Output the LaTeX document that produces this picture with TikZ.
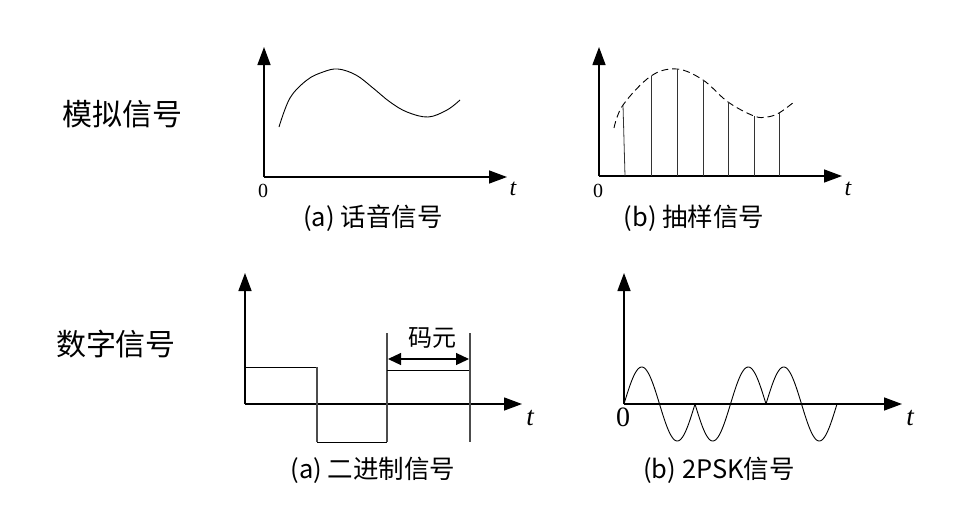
\documentclass[tikz,border=0pt]{standalone}
\usepackage{fontspec}
\setmainfont{Noto Sans CJK SC}
\newfontfamily\tnr{Liberation Serif}
\usetikzlibrary{arrows.meta}
\begin{document}
\begin{tikzpicture}[x=1pt,y=-1pt,
  axis/.style={line width=1.4pt,-{Triangle[length=18pt,width=13pt]}},
  dblarrow/.style={line width=1.2pt, arrows={Triangle[length=13pt,width=12pt]-Triangle[length=13pt,width=12pt]}},
  wave/.style={line width=0.9pt},
  sampleline/.style={line width=0.8pt, black!80},
  sq/.style={line width=1pt},
  sqv/.style={line width=1.2pt, black!70},
  sidelab/.style={font=\fontsize{30}{36}\selectfont, inner sep=0pt},
  captext/.style={font=\fontsize{25.5}{30}\selectfont, inner sep=0pt},
  zerolab/.style={font=\tnr\fontsize{20}{22}\selectfont, inner sep=0pt},
  tlab/.style={font=\tnr\itshape\fontsize{24}{26}\selectfont, inner sep=0pt},
]
\useasboundingbox (0,0) rectangle (964,515);

% ---------- side labels ----------
\node[sidelab] (analog) at (122,114) {模拟信号};
\node[sidelab] (digital) at (116,344) {数字信号};

% ---------- panel 1: speech signal ----------
\coordinate (o1) at (264,177);
\coordinate (y1) at (264,47);
\coordinate (x1) at (507,177);
\draw[axis] (o1) -- (y1);
\draw[axis] (o1) -- (x1);
\draw[wave] plot[smooth, tension=0.6] coordinates {(279,127) (290,98) (307,80) (323,72) (338,69) (356,75) (373,88) (390,102) (407,112) (428,117) (447,110) (460,100)};
\node[zerolab] (z1) at (263,191) {0};
\node[tlab] (t1) at (513,189) {t};
\node[captext] (c1) at (373,218) {(a) 话音信号};

% ---------- panel 2: sampled signal ----------
\coordinate (o2) at (599,176);
\coordinate (y2) at (599,47);
\coordinate (x2) at (842,176);
\draw[axis] (o2) -- (y2);
\draw[axis] (o2) -- (x2);
\coordinate (s1) at (623,105);
\coordinate (s2) at (651,76);
\coordinate (s3) at (677,69);
\coordinate (s4) at (703,80);
\coordinate (s5) at (728,102);
\coordinate (s6) at (754,116);
\coordinate (s7) at (779,113);
\draw[wave, dash pattern=on 7pt off 4pt] plot[smooth, tension=0.6] coordinates {(614,128) (s1) (s2) (s3) (s4) (s5) (s6) (767,117) (s7) (794,102)};
\coordinate (b1) at (625,176);
\coordinate (b2) at (651,176);
\coordinate (b3) at (677,176);
\coordinate (b4) at (703,176);
\coordinate (b5) at (728,176);
\coordinate (b6) at (754,176);
\coordinate (b7) at (779,176);
\foreach \i in {1,...,7} { \draw[sampleline] (s\i) -- (b\i); }
\node[zerolab] (z2) at (598,191) {0};
\node[tlab] (t2) at (848,189) {t};
\node[captext] (c2) at (694,218) {(b) 抽样信号};

% ---------- panel 3: binary signal ----------
\coordinate (o3) at (245,404);
\coordinate (y3) at (245,273);
\coordinate (x3) at (522,404);
\draw[axis] (o3) -- (y3);
\draw[axis] (o3) -- (x3);
\draw[sq] (245,367) -- (317,367);
\draw[sqv] (317,367) -- (317,442);
\draw[sq] (317,442) -- (387,442);
\draw[sqv] (387,442) -- (387,333);
\draw[sq] (387,370) -- (470,370);
\draw[sqv] (470,333) -- (470,442);
\coordinate (ml) at (388,359);
\coordinate (mr) at (469,359);
\draw[dblarrow] (ml) -- (mr);
\node[font=\fontsize{24}{28}\selectfont, inner sep=0pt] (sym) at (432,338) {码元};
\node[tlab, font=\tnr\itshape\fontsize{27}{29}\selectfont] (t3) at (530,418) {t};
\node[captext] (c3) at (373,470) {(a) 二进制信号};

% ---------- panel 4: 2PSK signal ----------
\coordinate (o4) at (624,404);
\coordinate (y4) at (624,273);
\coordinate (x4) at (902,404);
\draw[axis] (o4) -- (y4);
\draw[axis] (o4) -- (x4);
\draw[wave] plot[domain=0:360, samples=73] ({624+0.197222*\x},{404-37*sin(\x)});
\draw[wave] plot[domain=0:360, samples=73] ({695+0.197222*\x},{404+37*sin(\x)});
\draw[wave] plot[domain=0:360, samples=73] ({766+0.197222*\x},{404-37*sin(\x)});
\node[zerolab, font=\tnr\fontsize{28}{30}\selectfont] (z4) at (623,417) {0};
\node[tlab, font=\tnr\itshape\fontsize{27}{29}\selectfont] (t4) at (910,418) {t};
\node[captext] (c4) at (719,470) {(b) 2PSK信号};
\end{tikzpicture}
\end{document}
